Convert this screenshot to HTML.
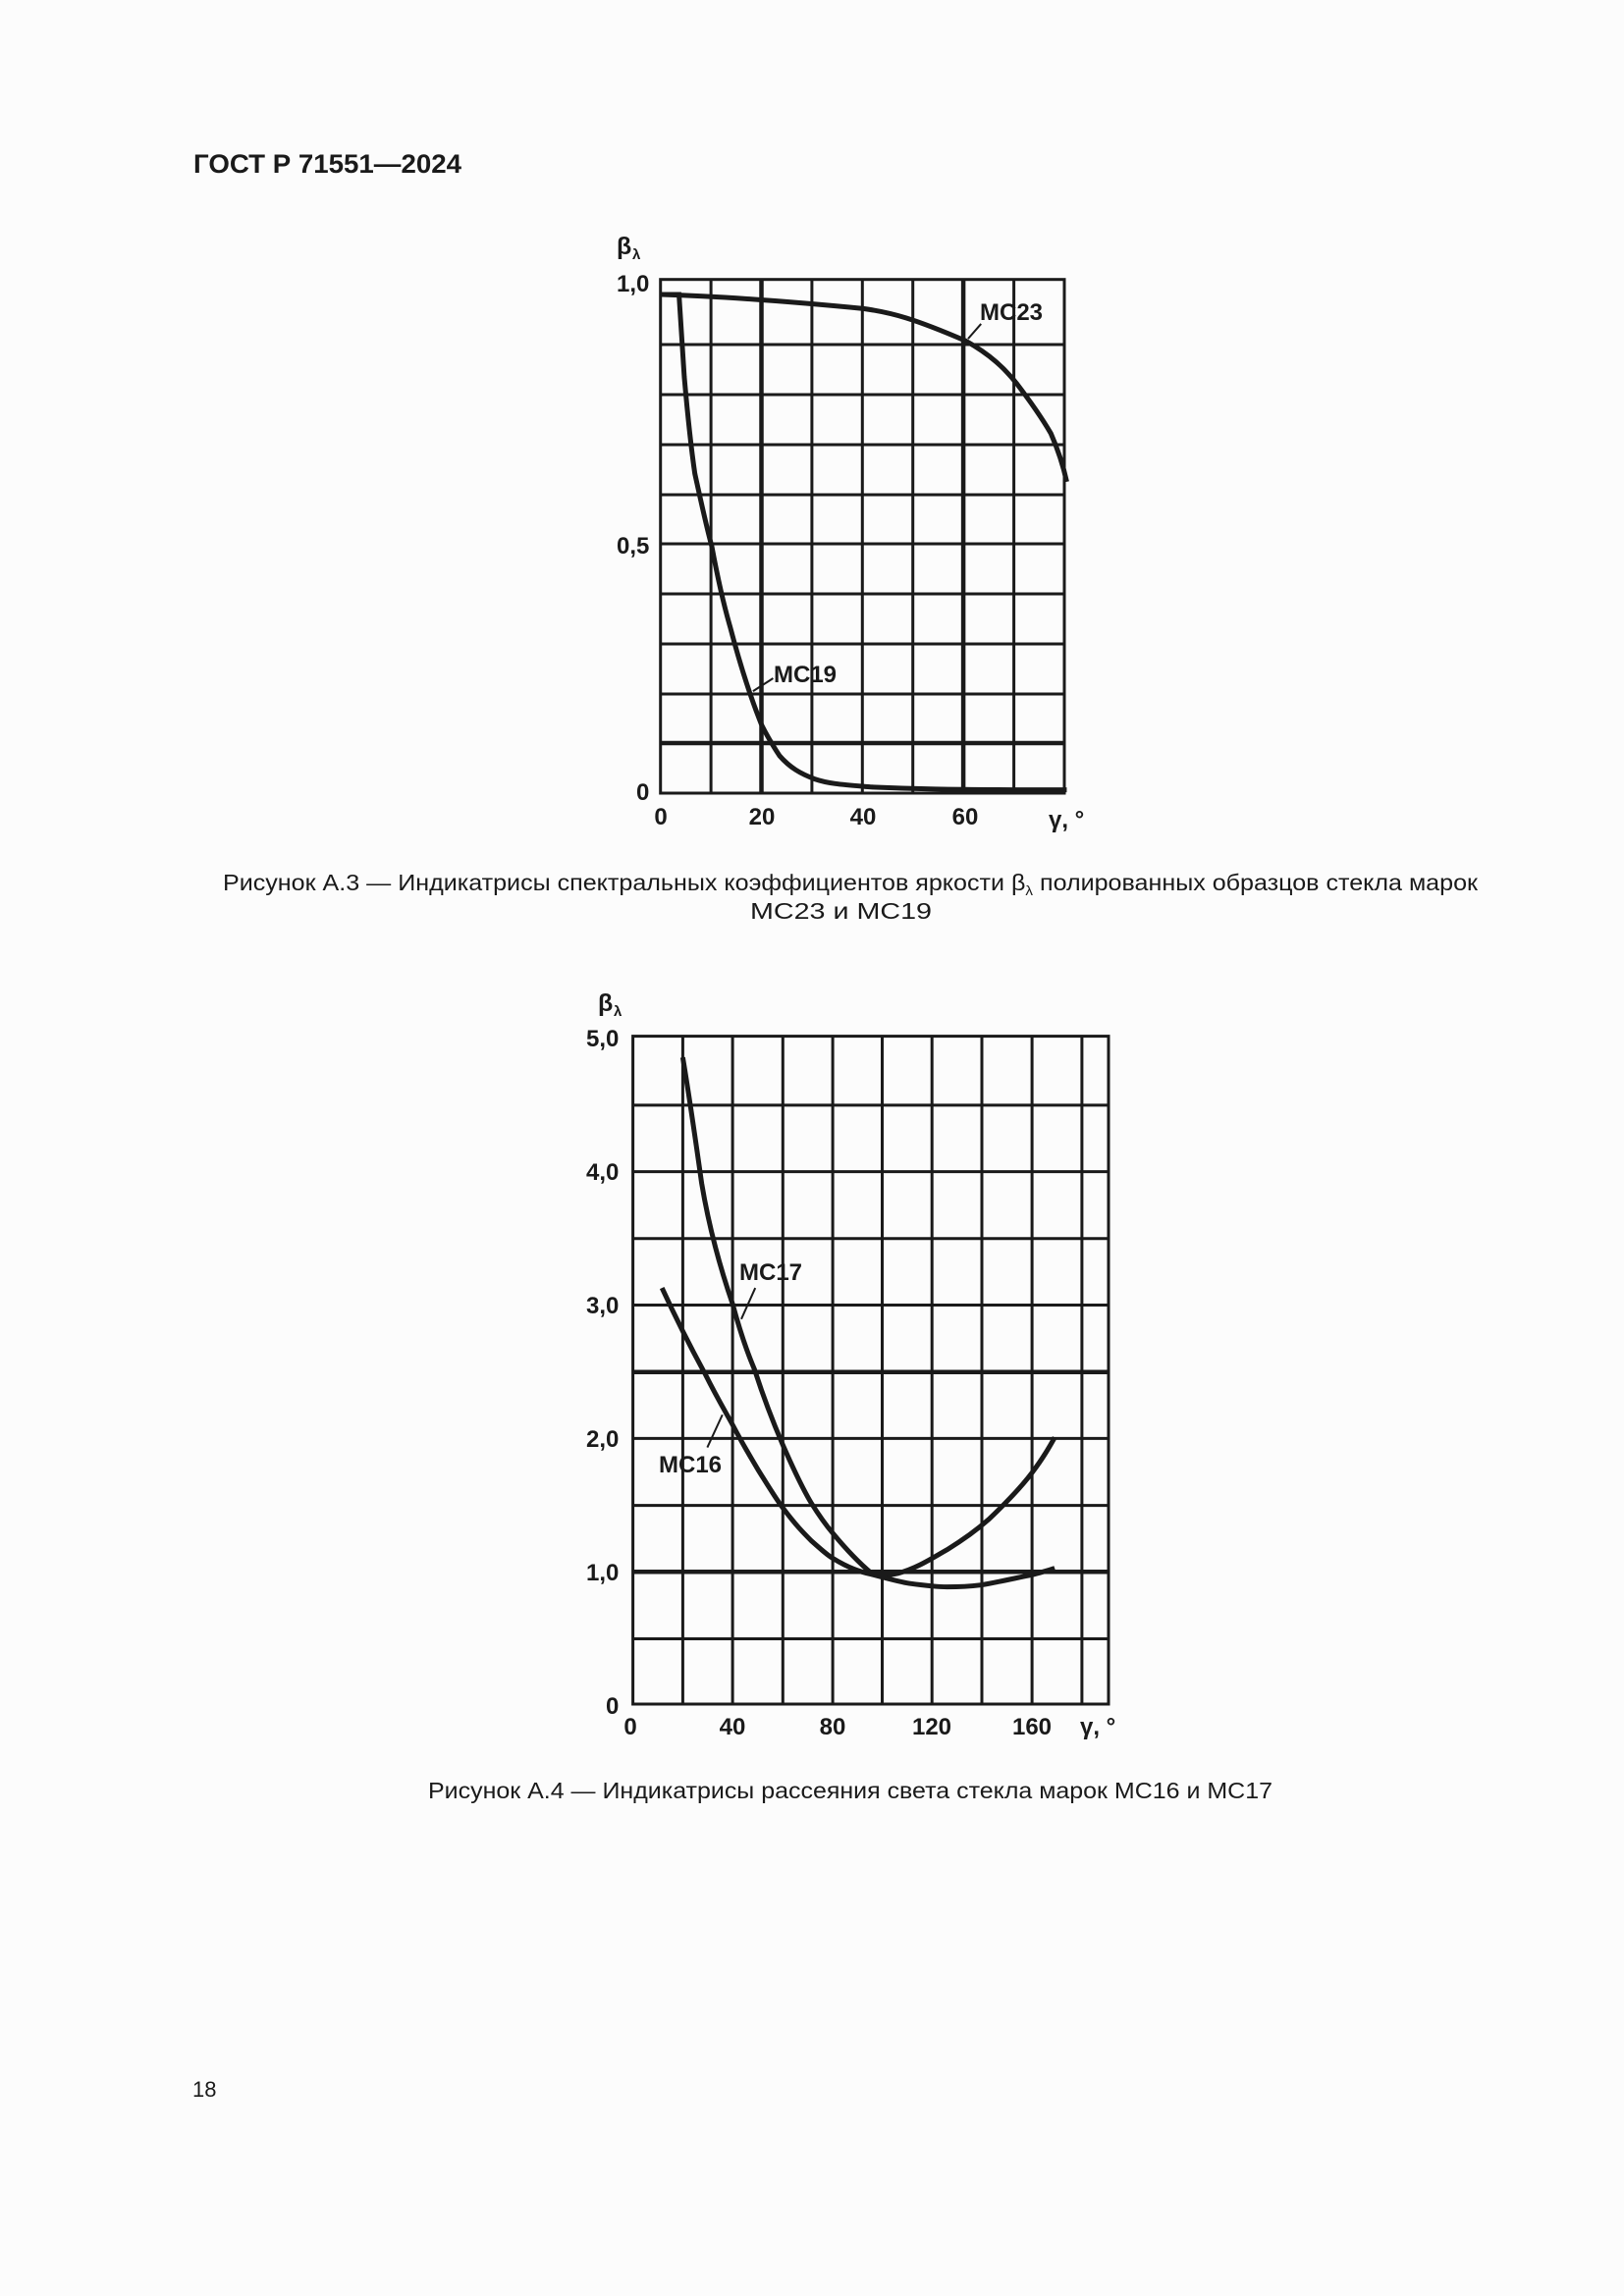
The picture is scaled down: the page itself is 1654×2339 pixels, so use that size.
<!DOCTYPE html>
<html><head><meta charset="utf-8"><style>html,body{margin:0;padding:0;background:#fcfcfc}svg{display:block}</style></head>
<body>
<svg width="1654" height="2339" viewBox="0 0 1654 2339" xmlns="http://www.w3.org/2000/svg" font-family="Liberation Sans, sans-serif" fill="#1a1a1a">
<rect width="1654" height="2339" fill="#fcfcfc"/>
<text x="197" y="176" font-size="27" font-weight="bold" textLength="273" lengthAdjust="spacingAndGlyphs">ГОСТ Р 71551—2024</text>

<!-- Chart 1 -->
<g stroke="#1a1a1a" stroke-width="3" fill="none">
<path d="M724.1 284.7V808M775.5 284.7V808M826.9 284.7V808M878.3 284.7V808M929.7 284.7V808M981.1 284.7V808M1032.6 284.7V808"/>
<path d="M672.7 351H1084M672.7 402H1084M672.7 453H1084M672.7 504H1084M672.7 554H1084M672.7 605H1084M672.7 656H1084M672.7 707H1084"/>
<path stroke-width="4.5" d="M672.7 757H1084M775.5 284.7V808M981.1 284.7V808"/>
<rect x="672.7" y="284.7" width="411.3" height="523.3"/>
</g>
<g transform="translate(600,220) scale(0.359,0.4103)" fill="none" stroke="#1a1a1a">
<path stroke-width="5" vector-effect="non-scaling-stroke" d="M205,195 C400,200 600,215 778,230 C860,240 922,255 1068,310 C1140,345 1180,380 1212,415 C1260,470 1290,510 1310,540 C1330,580 1345,620 1355,660"/>
<path stroke-width="5" vector-effect="non-scaling-stroke" d="M205,195 L255,195 L270,400 C280,500 290,580 300,640 C320,720 335,780 348,820 C365,900 380,960 400,1020 C430,1120 460,1200 490,1265 C510,1300 525,1320 540,1340 C570,1370 600,1385 640,1398 C680,1410 720,1412 800,1418 C900,1422 1000,1425 1355,1425"/>
<path stroke-width="2" vector-effect="non-scaling-stroke" d="M1075,305 L1112,268 M465,1180 L522,1148"/>
</g>
<g font-size="24" font-weight="bold">
<text x="628" y="259" font-size="25">β</text><text x="644" y="264" font-size="15">λ</text>
<text x="628" y="297">1,0</text>
<text x="628" y="564">0,5</text>
<text x="648" y="815">0</text>
<text x="673" y="840" text-anchor="middle">0</text>
<text x="776" y="840" text-anchor="middle">20</text>
<text x="879" y="840" text-anchor="middle">40</text>
<text x="983" y="840" text-anchor="middle">60</text>
<text x="1068" y="843">γ, °</text>
<text x="998" y="326">МС23</text>
<text x="788" y="695">МС19</text>
</g>
<text x="227" y="907" font-size="23" textLength="1278" lengthAdjust="spacingAndGlyphs">Рисунок А.3 — Индикатрисы спектральных коэффициентов яркости β<tspan font-size="14" dy="5">λ</tspan><tspan dy="-5"> полированных образцов стекла марок</tspan></text>
<text x="764" y="936" font-size="23" textLength="185" lengthAdjust="spacingAndGlyphs">МС23 и МС19</text>

<!-- Chart 2 -->
<g stroke="#1a1a1a" stroke-width="3" fill="none">
<path d="M695.4 1055.6V1736M746.1 1055.6V1736M797.3 1055.6V1736M848.1 1055.6V1736M898.5 1055.6V1736M949.2 1055.6V1736M1000 1055.6V1736M1051.1 1055.6V1736M1101.9 1055.6V1736"/>
<path d="M644.6 1125.9H1129M644.6 1193.6H1129M644.6 1261.8H1129M644.6 1329.5H1129M644.6 1397.7H1129M644.6 1465.4H1129M644.6 1533.6H1129M644.6 1601.3H1129M644.6 1669.5H1129"/>
<path stroke-width="4.5" d="M644.6 1397.7H1129M644.6 1601.3H1129"/>
<rect x="644.6" y="1055.6" width="484.4" height="680.4"/>
</g>
<g transform="translate(580,990) scale(0.3846,0.5128)" fill="none" stroke="#1a1a1a">
<path stroke-width="5" vector-effect="non-scaling-stroke" d="M300,170 C320,260 335,340 350,420 C370,510 400,590 432,660 C450,710 470,755 490,790 C520,860 545,905 565,940 C600,1000 620,1030 640,1055 C665,1085 680,1100 697,1115 C730,1145 760,1170 800,1195 C820,1200 840,1200 870,1195 C920,1185 960,1165 1000,1148 C1050,1125 1080,1108 1110,1088 C1170,1045 1200,1020 1225,995 C1255,965 1270,945 1285,925"/>
<path stroke-width="5" vector-effect="non-scaling-stroke" d="M245,628 C280,685 320,745 360,800 C390,845 410,870 432,900 C460,940 480,965 500,990 C525,1020 545,1045 565,1065 C600,1100 620,1115 640,1130 C670,1150 685,1160 697,1165 C740,1185 770,1192 800,1197 C850,1207 880,1213 900,1215 C950,1220 980,1222 1000,1222 C1050,1222 1070,1220 1092,1218 C1150,1210 1190,1203 1225,1198 C1250,1193 1270,1189 1285,1185"/>
<path stroke-width="2" vector-effect="non-scaling-stroke" d="M455,690 L492,628 M365,945 L405,880"/>
</g>
<g font-size="24" font-weight="bold">
<text x="609" y="1030" font-size="25">β</text><text x="625" y="1035" font-size="15">λ</text>
<text x="597" y="1066">5,0</text>
<text x="597" y="1202">4,0</text>
<text x="597" y="1338">3,0</text>
<text x="597" y="1474">2,0</text>
<text x="597" y="1610">1,0</text>
<text x="617" y="1746">0</text>
<text x="642" y="1767" text-anchor="middle">0</text>
<text x="746" y="1767" text-anchor="middle">40</text>
<text x="848" y="1767" text-anchor="middle">80</text>
<text x="949" y="1767" text-anchor="middle">120</text>
<text x="1051" y="1767" text-anchor="middle">160</text>
<text x="1100" y="1767">γ, °</text>
<text x="753" y="1304">МС17</text>
<text x="671" y="1500">МС16</text>
</g>
<text x="436" y="1832" font-size="23" textLength="860" lengthAdjust="spacingAndGlyphs">Рисунок А.4 — Индикатрисы рассеяния света стекла марок МС16 и МС17</text>

<text x="196" y="2136" font-size="22">18</text>
</svg>
</body></html>
